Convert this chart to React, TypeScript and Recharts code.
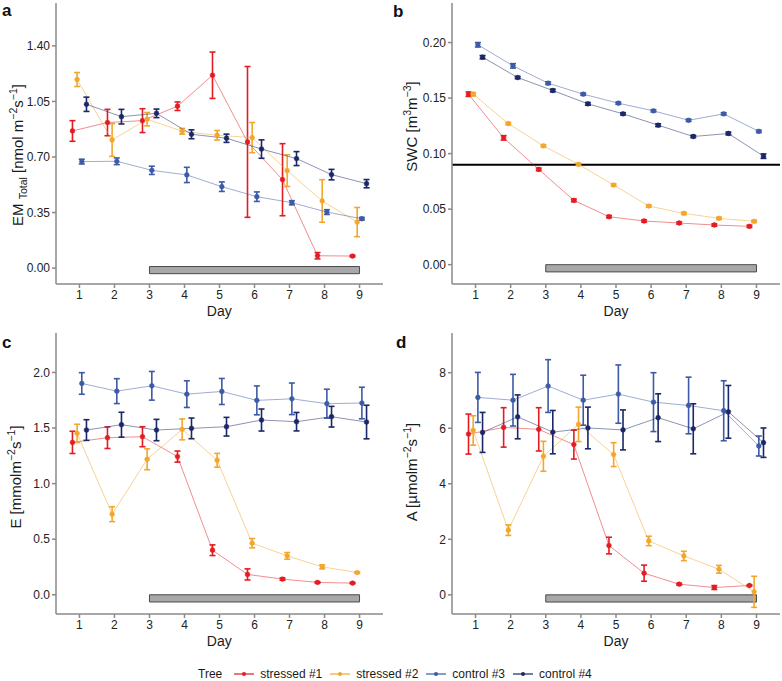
import React from 'react'
import { LineChart, Line, XAxis, YAxis, ErrorBar, ReferenceArea, ReferenceLine } from 'recharts'

const days = [1, 2, 3, 4, 5, 6, 7, 8, 9]
const trees = ['stressed #1', 'stressed #2', 'control #3', 'control #4']
const treeColors = ['#e31c23', '#f2a62c', '#3d5aa6', '#1b2766']
const dodge = [-0.2, -0.067, 0.067, 0.2]

// a: EM total
const emS1 = [0.864, 0.917, 0.929, 1.02, 1.215, 0.795, 0.557, 0.078, 0.076]
const emS1Err = [0.065, 0.083, 0.075, 0.027, 0.146, 0.475, 0.227, 0.02, 0.005]
const emS2 = [1.188, 0.807, 0.938, 0.862, 0.837, 0.822, 0.614, 0.423, 0.29]
const emS2Err = [0.044, 0.103, 0.042, 0.018, 0.03, 0.095, 0.1, 0.134, 0.092]
const emC3 = [0.671, 0.673, 0.616, 0.587, 0.513, 0.45, 0.412, 0.353, 0.311]
const emC3Err = [0.015, 0.021, 0.026, 0.048, 0.03, 0.03, 0.013, 0.015, 0.008]
const emC4 = [1.032, 0.954, 0.975, 0.843, 0.818, 0.75, 0.69, 0.589, 0.532]
const emC4Err = [0.045, 0.046, 0.027, 0.028, 0.026, 0.058, 0.044, 0.033, 0.026]

// b: SWC
const swcS1 = [0.1535, 0.1142, 0.0858, 0.0579, 0.0432, 0.0393, 0.0375, 0.0357, 0.0345]
const swcS1Err = [0.002, 0.002, 0.0012, 0.0012, 0.001, 0.001, 0.001, 0.001, 0.001]
const swcS2 = [0.1535, 0.127, 0.107, 0.0903, 0.0717, 0.0528, 0.0462, 0.0417, 0.039]
const swcS2Err = [0.0015, 0.001, 0.001, 0.001, 0.001, 0.001, 0.001, 0.001, 0.001]
const swcC3 = [0.198, 0.179, 0.1634, 0.1535, 0.1454, 0.1385, 0.13, 0.1358, 0.12]
const swcC3Err = [0.002, 0.002, 0.0012, 0.001, 0.001, 0.001, 0.001, 0.001, 0.001]
const swcC4 = [0.1868, 0.1685, 0.1568, 0.1448, 0.1358, 0.1256, 0.1154, 0.1181, 0.0977]
const swcC4Err = [0.0015, 0.001, 0.0012, 0.0012, 0.001, 0.0012, 0.001, 0.0012, 0.002]
const swcThreshold = 0.09

// c: E
const eS1 = [1.371, 1.413, 1.422, 1.243, 0.401, 0.183, 0.141, 0.111, 0.105]
const eS1Err = [0.1, 0.097, 0.09, 0.05, 0.048, 0.05, 0.01, 0.006, 0.005]
const eS2 = [1.452, 0.725, 1.219, 1.488, 1.21, 0.464, 0.35, 0.251, 0.2]
const eS2Err = [0.082, 0.067, 0.094, 0.094, 0.062, 0.042, 0.03, 0.018, 0.006]
const eC3 = [1.901, 1.832, 1.88, 1.805, 1.829, 1.749, 1.763, 1.719, 1.725]
const eC3Err = [0.097, 0.112, 0.129, 0.12, 0.117, 0.13, 0.142, 0.13, 0.142]
const eC4 = [1.482, 1.53, 1.482, 1.497, 1.512, 1.572, 1.557, 1.602, 1.554]
const eC4Err = [0.093, 0.112, 0.096, 0.093, 0.084, 0.099, 0.083, 0.093, 0.151]

// d: A
const aS1 = [5.79, 6.03, 5.96, 5.41, 1.775, 0.78, 0.384, 0.264, 0.336]
const aS1Err = [0.72, 0.71, 0.78, 0.52, 0.3, 0.29, 0.03, 0.07, 0.02]
const aS2 = [5.92, 2.33, 4.99, 6.14, 5.05, 1.94, 1.4, 0.92, 0.108]
const aS2Err = [0.53, 0.19, 0.54, 0.62, 0.43, 0.17, 0.17, 0.14, 0.56]
const aC3 = [7.11, 7.01, 7.52, 7.01, 7.23, 6.94, 6.82, 6.63, 5.36]
const aC3Err = [0.9, 0.93, 0.95, 0.9, 1.05, 1.06, 1.02, 1.08, 0.36]
const aC4 = [5.85, 6.41, 5.86, 6.01, 5.94, 6.38, 5.98, 6.59, 5.48]
const aC4Err = [0.72, 0.79, 0.78, 0.75, 0.72, 0.86, 0.9, 0.95, 0.53]

// treatment period bar
const barStart = 3
const barEnd = 9

const font = '"Liberation Sans", Arial, sans-serif'
const axisColor = '#8a8a8a'

type Series = { values: number[]; errs: number[] }

function toPoints(s: Series, k: number) {
  return days.map((d, i) => ({ x: d + dodge[k], y: s.values[i], err: s.errs[i] }))
}

interface PanelProps {
  left: number
  top: number
  width: number
  height: number
  margin: { top: number; right: number; bottom: number; left: number }
  yDomain: [number, number]
  yTicks: number[]
  digits: number
  bar: [number, number]
  series: Series[]
  refY?: number
}

function Panel({ left, top, width, height, margin, yDomain, yTicks, digits, bar, series, refY }: PanelProps) {
  return (
    <div style={{ position: 'absolute', left, top }}>
      <LineChart width={width} height={height} margin={margin}>
        <XAxis
          type="number"
          dataKey="x"
          domain={[0.33, 9.67]}
          ticks={days}
          allowDataOverflow
          height={20}
          stroke={axisColor}
          strokeWidth={1.5}
          tickSize={4}
          tick={{ fontSize: 12, fill: '#222', fontFamily: font }}
        />
        <YAxis
          type="number"
          domain={yDomain}
          ticks={yTicks}
          allowDataOverflow
          width={46}
          stroke={axisColor}
          strokeWidth={1.5}
          tickSize={4}
          tickFormatter={(v: number) => v.toFixed(digits)}
          tick={{ fontSize: 12, fill: '#222', fontFamily: font }}
        />
        <ReferenceArea
          x1={barStart}
          x2={barEnd}
          y1={bar[0]}
          y2={bar[1]}
          fill="#a8a8a8"
          fillOpacity={1}
          stroke="#4a4a4a"
          strokeWidth={1}
          ifOverflow="visible"
        />
        {refY !== undefined && <ReferenceLine y={refY} stroke="#000" strokeWidth={2} />}
        {series.map((s, k) => (
          <Line
            key={trees[k]}
            data={toPoints(s, k)}
            dataKey="y"
            type="linear"
            stroke={treeColors[k]}
            strokeOpacity={0.5}
            strokeWidth={1}
            dot={{ r: 2.4, fill: treeColors[k], stroke: treeColors[k], strokeOpacity: 1, strokeWidth: 0.5 }}
            activeDot={false}
            isAnimationActive={false}
          >
            <ErrorBar dataKey="err" direction="y" width={3} stroke={treeColors[k]} strokeWidth={1.6} />
          </Line>
        ))}
      </LineChart>
    </div>
  )
}

const sup = { fontSize: 10.5 }

export default function App() {
  const mTop = { top: 3, right: 7, bottom: 16, left: 10 }
  const mTopR = { top: 3, right: 2, bottom: 16, left: 16 }
  const mBot = { top: 4, right: 7, bottom: 16, left: 10 }
  const mBotR = { top: 4, right: 2, bottom: 16, left: 16 }
  return (
    <div style={{ position: 'absolute', left: 0, top: 0, width: 782, height: 681, background: '#fff', fontFamily: font }}>
      <Panel
        left={0} top={0} width={390} height={320} margin={mTop}
        yDomain={[-0.1, 1.67]} yTicks={[0, 0.35, 0.7, 1.05, 1.4]} digits={2} bar={[0.01, -0.035]}
        series={[
          { values: emS1, errs: emS1Err },
          { values: emS2, errs: emS2Err },
          { values: emC3, errs: emC3Err },
          { values: emC4, errs: emC4Err },
        ]}
      />
      <Panel
        left={390} top={0} width={392} height={320} margin={mTopR}
        yDomain={[-0.0174, 0.2356]} yTicks={[0, 0.05, 0.1, 0.15, 0.2]} digits={2} bar={[0, -0.0065]}
        refY={swcThreshold}
        series={[
          { values: swcS1, errs: swcS1Err },
          { values: swcS2, errs: swcS2Err },
          { values: swcC3, errs: swcC3Err },
          { values: swcC4, errs: swcC4Err },
        ]}
      />
      <Panel
        left={0} top={329} width={390} height={321} margin={mBot}
        yDomain={[-0.173, 2.355]} yTicks={[0, 0.5, 1, 1.5, 2]} digits={1} bar={[0, -0.065]}
        series={[
          { values: eS1, errs: eS1Err },
          { values: eS2, errs: eS2Err },
          { values: eC3, errs: eC3Err },
          { values: eC4, errs: eC4Err },
        ]}
      />
      <Panel
        left={390} top={329} width={392} height={321} margin={mBotR}
        yDomain={[-0.69, 9.43]} yTicks={[0, 2, 4, 6, 8]} digits={0} bar={[0, -0.26]}
        series={[
          { values: aS1, errs: aS1Err },
          { values: aS2, errs: aS2Err },
          { values: aC3, errs: aC3Err },
          { values: aC4, errs: aC4Err },
        ]}
      />

      <svg width={782} height={681} style={{ position: 'absolute', left: 0, top: 0, pointerEvents: 'none' }} fontFamily={font}>
        <g fontSize={17} fontWeight="bold" fill="#111">
          <text x={2} y={15.5}>a</text>
          <text x={393} y={17}>b</text>
          <text x={2} y={348.3}>c</text>
          <text x={396} y={348.3}>d</text>
        </g>
        <g fontSize={14} fill="#1a1a1a" textAnchor="middle">
          <text x={219.3} y={316}>Day</text>
          <text x={616} y={316}>Day</text>
          <text x={219.3} y={646}>Day</text>
          <text x={616} y={646}>Day</text>
        </g>
        <g fontSize={15} fill="#1a1a1a" textAnchor="middle">
          <text transform="translate(23,155) rotate(-90)">
            EM <tspan style={sup} dy={4}>Total</tspan>
            <tspan dy={-4}> [nmol m</tspan>
            <tspan style={sup} dy={-6}>−2</tspan>
            <tspan dy={6}>s</tspan>
            <tspan style={sup} dy={-6}>−1</tspan>
            <tspan dy={6}>]</tspan>
          </text>
          <text transform="translate(416.5,126.5) rotate(-90)">
            SWC [m<tspan style={sup} dy={-6}>3</tspan>
            <tspan dy={6}>m</tspan>
            <tspan style={sup} dy={-6}>−3</tspan>
            <tspan dy={6}>]</tspan>
          </text>
          <text transform="translate(21,477) rotate(-90)">
            E [mmolm<tspan style={sup} dy={-6}>−2</tspan>
            <tspan dy={6}>s</tspan>
            <tspan style={sup} dy={-6}>−1</tspan>
            <tspan dy={6}>]</tspan>
          </text>
          <text transform="translate(416.5,472) rotate(-90)">
            A [µmolm<tspan style={sup} dy={-6}>−2</tspan>
            <tspan dy={6}>s</tspan>
            <tspan style={sup} dy={-6}>−1</tspan>
            <tspan dy={6}>]</tspan>
          </text>
        </g>
      </svg>

      <div
        style={{
          position: 'absolute',
          left: 198,
          top: 666,
          display: 'flex',
          alignItems: 'center',
          fontSize: 12,
          lineHeight: '16px',
          color: '#1a1a1a',
          whiteSpace: 'nowrap',
        }}
      >
        <span style={{ marginRight: 12 }}>Tree</span>
        {trees.map((t, k) => (
          <span key={t} style={{ display: 'flex', alignItems: 'center', marginRight: 8 }}>
            <svg width={20} height={10} style={{ marginRight: 6 }}>
              <line x1={0} y1={5} x2={20} y2={5} stroke={treeColors[k]} strokeWidth={1.2} />
              <circle cx={10} cy={5} r={2} fill={treeColors[k]} />
            </svg>
            {t}
          </span>
        ))}
      </div>
    </div>
  )
}
